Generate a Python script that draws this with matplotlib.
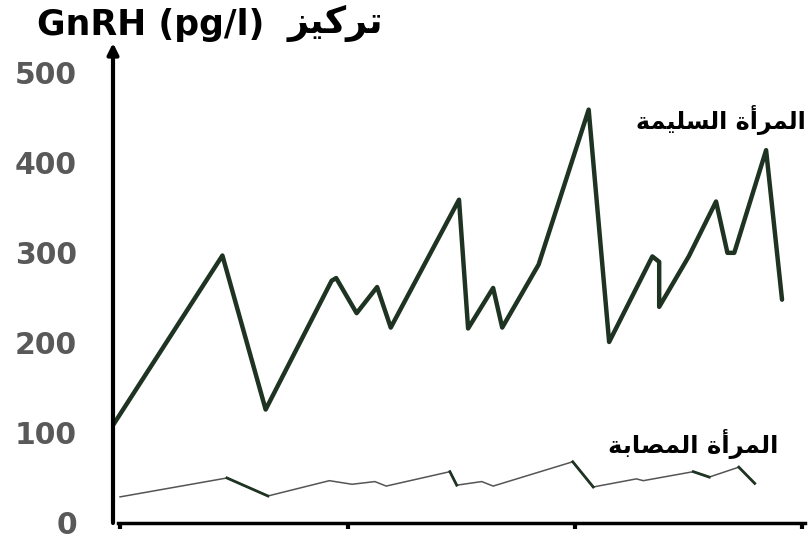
import numpy as np
import matplotlib
matplotlib.use("Agg")
import matplotlib.pyplot as plt

# temps (unités des graduations de l'axe x) et concentrations
t_saine = [-0.03, 0.45, 0.64, 0.93, 0.95, 1.04, 1.13, 1.19, 1.49, 1.53, 1.64, 1.68,
           1.84, 2.06, 2.15, 2.34, 2.37, 2.37, 2.50, 2.62, 2.67, 2.70, 2.84, 2.91]
v_saine = [109, 297, 126, 269, 272, 233, 262, 217, 359, 216, 261, 217,
           287, 459, 201, 296, 290, 240, 296, 357, 300, 300, 414, 248]

t_malade = [0.00, 0.47, 0.65, 0.92, 1.02, 1.12, 1.17, 1.45, 1.48, 1.59, 1.64,
            1.99, 2.08, 2.27, 2.30, 2.52, 2.59, 2.72, 2.79]
v_malade = [29, 50, 30, 47, 43, 46, 41, 57, 42, 46, 41,
            68, 40, 49, 47, 57, 51, 62, 44]

x_ticks = [0, 1, 2, 3]
y_ticks = [0, 100, 200, 300, 400, 500]

titre = "GnRH (pg/l)"
titre_ar = "تركيز"
label_saine = "المرأة السليمة"
label_malade = "المرأة المصابة"

# matplotlib ne fait pas le shaping de l'arabe : on le fait à la main
formes = {
    'ا': ('\uFE8D', '\uFE8E', None, None),
    'أ': ('\uFE83', '\uFE84', None, None),
    'ب': ('\uFE8F', '\uFE90', '\uFE91', '\uFE92'),
    'ة': ('\uFE93', '\uFE94', None, None),
    'ت': ('\uFE95', '\uFE96', '\uFE97', '\uFE98'),
    'ر': ('\uFEAD', '\uFEAE', None, None),
    'ز': ('\uFEAF', '\uFEB0', None, None),
    'س': ('\uFEB1', '\uFEB2', '\uFEB3', '\uFEB4'),
    'ص': ('\uFEB9', '\uFEBA', '\uFEBB', '\uFEBC'),
    'ك': ('\uFED9', '\uFEDA', '\uFEDB', '\uFEDC'),
    'ل': ('\uFEDD', '\uFEDE', '\uFEDF', '\uFEE0'),
    'م': ('\uFEE1', '\uFEE2', '\uFEE3', '\uFEE4'),
    'ي': ('\uFEF1', '\uFEF2', '\uFEF3', '\uFEF4'),
}


def arabe(texte):
    out = []
    for i, c in enumerate(texte):
        if c not in formes:
            out.append(c)
            continue
        prev = texte[i - 1] if i > 0 else ''
        nxt = texte[i + 1] if i + 1 < len(texte) else ''
        lie_avant = prev in formes and formes[prev][2] is not None
        lie_apres = nxt in formes and formes[c][2] is not None
        iso, fin, ini, med = formes[c]
        if lie_avant and lie_apres:
            out.append(med)
        elif lie_avant:
            out.append(fin)
        elif lie_apres:
            out.append(ini)
        else:
            out.append(iso)
    return ''.join(out)[::-1]


fig = plt.figure(figsize=(8.08, 5.39), dpi=100)
ax = fig.add_axes([113 / 808, 16 / 539, 692 / 808, 480 / 539])

vert = '#1f3322'
ax.plot(t_saine, v_saine, color=vert, lw=3.2, solid_joinstyle='round', solid_capstyle='round')

ax.plot(t_malade, v_malade, color='#555555', lw=1.1)
# les descentes sont plus épaisses sur l'original
for i in range(len(t_malade) - 1):
    if v_malade[i + 1] < v_malade[i] - 5:
        ax.plot(t_malade[i:i + 2], v_malade[i:i + 2], color=vert, lw=2)

ax.set_xlim(-0.031, 3.011)
ax.set_ylim(0, 533)

for s in ['top', 'right', 'left']:
    ax.spines[s].set_visible(False)
ax.spines['bottom'].set_linewidth(2.5)
ax.spines['bottom'].set_bounds(-0.01, 3.011)

ax.annotate('', xy=(0, 1.0), xytext=(0, 0), xycoords='axes fraction',
            arrowprops=dict(arrowstyle='-|>', lw=3, color='black', mutation_scale=16,
                            shrinkA=0, shrinkB=0))

ax.set_xticks(x_ticks)
ax.set_xticklabels([])
ax.tick_params(axis='x', length=4, width=3, direction='out')
ax.set_yticks(y_ticks)
ax.set_yticklabels([str(v) for v in y_ticks], fontsize=21.5, fontweight='bold', color='#595959')
ax.tick_params(axis='y', length=0, pad=26)

fig.text(37 / 808, 1 - 25 / 539, titre, fontsize=25, fontweight='bold',
         va='center', ha='left')
fig.text(383 / 808, 1 - 23 / 539, arabe(titre_ar), fontsize=26.5, fontweight='bold',
         va='center', ha='right')
fig.text(806 / 808, 1 - 120 / 539, arabe(label_saine), fontsize=17.2, fontweight='bold',
         va='center', ha='right')
fig.text(778 / 808, 1 - 444 / 539, arabe(label_malade), fontsize=17.5, fontweight='bold',
         va='center', ha='right')

fig.savefig('out.png', dpi=100)
